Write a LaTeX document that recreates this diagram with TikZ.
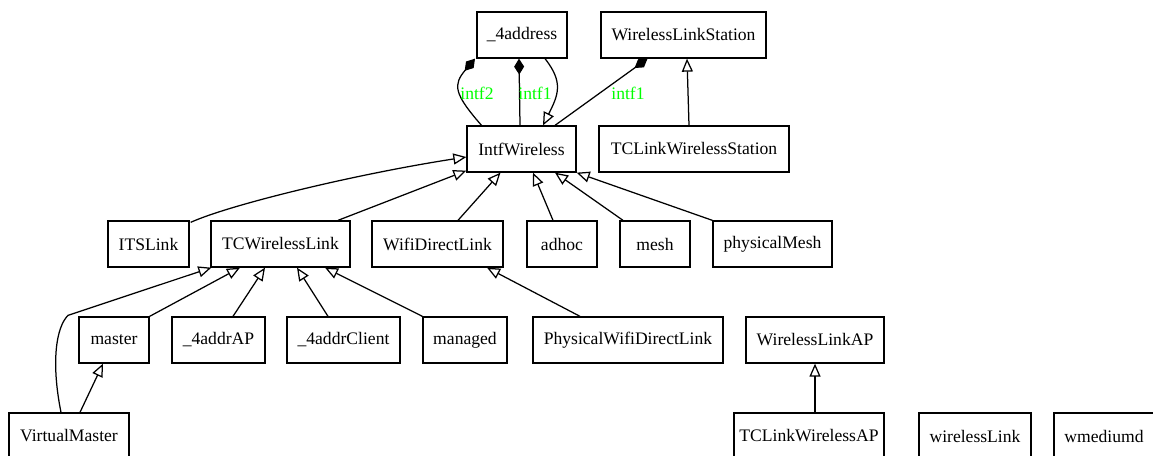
\documentclass[tikz,border=0pt]{standalone}
\usepackage{fontspec}
\setmainfont{Liberation Serif}
\usetikzlibrary{arrows.meta}
\tikzset{
  cls/.style={draw, line width=1.3pt, rectangle, minimum height=46pt, inner sep=0pt,
    font=\fontsize{17.6}{20}\selectfont},
  conn/.style={line width=1.25pt},
  inh/.style={conn, -{Triangle[open,length=13pt,width=11pt]}},
  comp/.style={conn, {Diamond[length=16pt,width=10pt]}-},
  lbl/.style={text=green, font=\fontsize{17.6}{20}\selectfont, inner sep=0pt}
}
\begin{document}
\begin{tikzpicture}[x=1pt,y=-1pt]
\clip (0,0) rectangle (1153,455);
\useasboundingbox (0,0) rectangle (1153,455);
% row 0
\node[cls, minimum width=90pt]  (a4)   at (522,35)   {\_4address};
\node[cls, minimum width=165pt] (wls)  at (683.5,35) {WirelessLinkStation};
% row 1
\node[cls, minimum width=109pt] (iw)   at (521.5,149) {IntfWireless};
\node[cls, minimum width=190pt] (tcws) at (694,149)   {TCLinkWirelessStation};
% row 2
\node[cls, minimum width=81pt]  (its)  at (148.5,244) {ITSLink};
\node[cls, minimum width=139pt] (tcw)  at (280.5,244) {TCWirelessLink};
\node[cls, minimum width=131pt] (wdl)  at (437.5,244) {WifiDirectLink};
\node[cls, minimum width=70pt]  (adh)  at (562,244)   {adhoc};
\node[cls, minimum width=70pt]  (mesh) at (655,244)   {mesh};
\node[cls, minimum width=119pt] (pm)   at (772.5,244) {physicalMesh};
% row 3
\node[cls, minimum width=70pt]  (mst)  at (114,340)   {master};
\node[cls, minimum width=93pt]  (ap4)  at (218.5,340) {\_4addrAP};
\node[cls, minimum width=113pt] (cl4)  at (343.5,340) {\_4addrClient};
\node[cls, minimum width=84pt]  (mgd)  at (465,340)   {managed};
\node[cls, minimum width=190pt] (pwdl) at (628,340)   {PhysicalWifiDirectLink};
\node[cls, minimum width=138pt] (wlap) at (815,340)   {WirelessLinkAP};
% row 4
\node[cls, minimum width=120pt] (vm)   at (69,436)    {VirtualMaster};
\node[cls, minimum width=150pt] (tcap) at (809,436)   {TCLinkWirelessAP};
\node[cls, minimum width=112pt] (wl)   at (975,436)   {wirelessLink};
\node[cls, minimum width=100pt] (wmd)  at (1104,436)  {wmediumd};

% composition edges
\draw[comp] ([xshift=-47pt]a4.south) .. controls +(-22,26) and +(-28,-32) .. ([xshift=-40pt]iw.north);
\node[lbl] (l1) at (477,93) {intf2};
\draw[comp] ([xshift=-3pt]a4.south) -- ([xshift=-1.5pt]iw.north);
\node[lbl] (l2) at (535,93) {intf1};
\draw[comp] ([xshift=-36pt]wls.south) -- ([xshift=33.5pt]iw.north);
\node[lbl] (l3) at (628,93) {intf1};

% inheritance edges
\draw[inh] ([xshift=23pt]a4.south) .. controls +(19,24) and +(15,-30) .. ([xshift=21.5pt]iw.north);
\draw[inh] ([xshift=-5pt]tcws.north) -- ([xshift=3.5pt]wls.south);
\draw[inh] ([xshift=1pt,yshift=-2pt]its.north east) .. controls +(40,-18) and +(-110,17) .. ([yshift=-8pt]iw.west);
\draw[inh] ([xshift=57.5pt]tcw.north) -- ([yshift=2pt]iw.south west);
\draw[inh] ([xshift=20.5pt]wdl.north) -- ([xshift=-21pt]iw.south);
\draw[inh] ([xshift=-9pt]adh.north) -- ([xshift=11.5pt]iw.south);
\draw[inh] ([xshift=-32pt]mesh.north) -- ([xshift=33.5pt]iw.south);
\draw[inh] (pm.north west) -- (iw.south east);

\draw[inh] ([xshift=-8pt]vm.north) .. controls +(-10,-50) and +(-12,12) .. ++(7,-97) -- ([xshift=1pt]tcw.south west);
\draw[inh] ([xshift=11pt]vm.north) -- ([xshift=-11pt]mst.south);
\draw[inh] (mst.north east) -- ([xshift=-40.5pt]tcw.south);
\draw[inh] ([xshift=14.5pt]ap4.north) -- ([xshift=-15.5pt]tcw.south);
\draw[inh] ([xshift=-15.5pt]cl4.north) -- ([xshift=16.5pt]tcw.south);
\draw[inh] (mgd.north west) -- ([xshift=44.5pt]tcw.south);
\draw[inh] ([xshift=-48pt]pwdl.north) -- ([xshift=49.5pt]wdl.south);
\draw[inh] ([xshift=6pt]tcap.north) -- (wlap.south);
\end{tikzpicture}
\end{document}
